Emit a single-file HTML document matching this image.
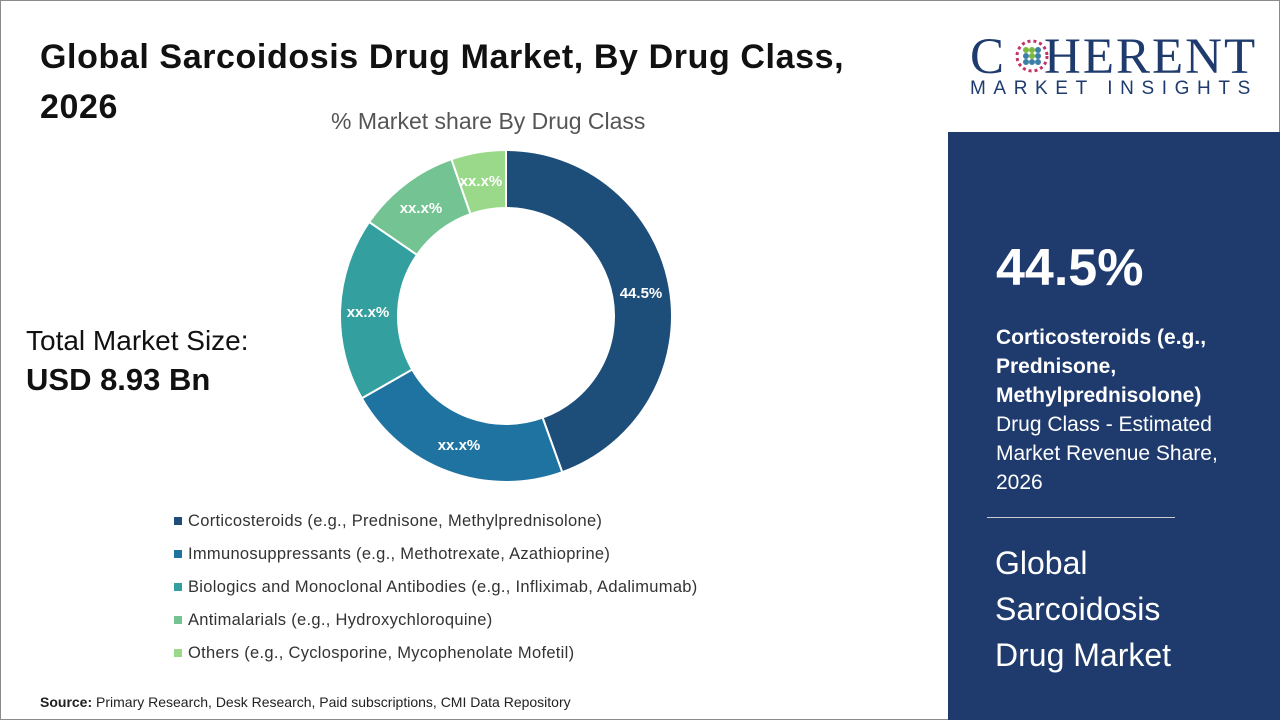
<!DOCTYPE html>
<html><head><meta charset="utf-8"><style>
body{margin:0;width:1280px;height:720px;overflow:hidden;background:#fff;font-family:"Liberation Sans",sans-serif;position:relative}
.frame{position:absolute;left:0;top:0;width:1278px;height:718px;border:1px solid #8a8a8a}
.t{position:absolute;color:#111}
.leg{position:absolute;left:174px;font-size:16.5px;color:#333;letter-spacing:0.3px}
.leg span{display:inline-block;width:8px;height:8px;margin-right:6px;vertical-align:1px}
.panel{position:absolute;left:948px;top:132px;width:332px;height:588px;background:#1f3b6e}
.p{position:absolute;color:#fff}
</style></head><body>
<div class="frame"></div>
<div class="t" style="left:40px;top:32px;font-size:34px;font-weight:bold;line-height:50px;width:900px;letter-spacing:0.6px">Global Sarcoidosis Drug Market, By Drug Class,<br>2026</div>
<div class="t" style="left:331px;top:108px;font-size:23px;color:#555">% Market share By Drug Class</div>
<div class="t" style="left:26px;top:325px;font-size:28px;color:#111">Total Market Size:</div>
<div class="t" style="left:26px;top:362px;font-size:31px;font-weight:bold">USD 8.93 Bn</div>
<svg id="d" style="position:absolute;left:0;top:0" width="948" height="720"></svg>
<div class="leg" style="top:512px"><span style="background:#1d4e79"></span>Corticosteroids (e.g., Prednisone, Methylprednisolone)</div>
<div class="leg" style="top:545px"><span style="background:#1f73a0"></span>Immunosuppressants (e.g., Methotrexate, Azathioprine)</div>
<div class="leg" style="top:578px"><span style="background:#33a09f"></span>Biologics and Monoclonal Antibodies (e.g., Infliximab, Adalimumab)</div>
<div class="leg" style="top:611px"><span style="background:#74c493"></span>Antimalarials (e.g., Hydroxychloroquine)</div>
<div class="leg" style="top:644px"><span style="background:#9ad98a"></span>Others (e.g., Cyclosporine, Mycophenolate Mofetil)</div>
<div class="t" style="left:40px;top:694px;font-size:14px;color:#222"><b>Source:</b> Primary Research, Desk Research, Paid subscriptions, CMI Data Repository</div>
<div class="t" style="left:970px;top:28px;font-family:'Liberation Serif',serif;font-size:51px;color:#1f3b6e;letter-spacing:2px">C<span style="display:inline-block;width:38px"></span>HERENT</div>
<svg style="position:absolute;left:1014px;top:38px" width="36" height="36"><g fill="#3b7fa8"><circle cx="18" cy="18" r="15" fill="none" stroke="#c0336a" stroke-width="3" stroke-dasharray="3 3"/><circle cx="12" cy="12" r="3" fill="#7ab93d"/><circle cx="18" cy="12" r="3" fill="#7ab93d"/><circle cx="24" cy="12" r="3"/><circle cx="12" cy="18" r="3"/><circle cx="18" cy="18" r="3" fill="#7ab93d"/><circle cx="24" cy="18" r="3"/><circle cx="12" cy="24" r="3"/><circle cx="18" cy="24" r="3"/><circle cx="24" cy="24" r="3"/></g></svg>
<div class="t" style="left:970px;top:78px;font-size:19px;color:#1f3b6e;letter-spacing:7.6px">MARKET INSIGHTS</div>
<div class="panel"></div>
<div class="p" style="left:996px;top:238px;font-size:52px;font-weight:bold">44.5%</div>
<div class="p" style="left:996px;top:323px;font-size:21px;line-height:29px;width:250px"><b>Corticosteroids (e.g., Prednisone, Methylprednisolone)</b><br>Drug Class - Estimated Market Revenue Share, 2026</div>
<div class="p" style="left:987px;top:517px;width:188px;border-top:1px solid #ccc"></div>
<div class="p" style="left:995px;top:540px;font-size:32px;line-height:46px">Global<br>Sarcoidosis<br>Drug Market</div>
<script>
var s=document.getElementById('d'),cx=506,cy=316,R=166,r=108;
var seg=[[0,160.2,'#1d4e79'],[160.2,240.3,'#1f73a0'],[240.3,304.5,'#33a09f'],[304.5,340.8,'#74c493'],[340.8,360,'#9ad98a']];
var labs=[[641,294,'44.5%'],[459,446,'xx.x%'],[368,313,'xx.x%'],[421,209,'xx.x%'],[481,182,'xx.x%']];
function P(a,rr){a=a*Math.PI/180;return[cx+rr*Math.sin(a),cy-rr*Math.cos(a)]}
var h='';seg.forEach(function(g){var a=P(g[0],R),b=P(g[1],R),c=P(g[1],r),d=P(g[0],r),l=(g[1]-g[0])>180?1:0;
h+='<path d="M'+a+'A'+R+','+R+' 0 '+l+' 1 '+b+'L'+c+'A'+r+','+r+' 0 '+l+' 0 '+d+'Z" fill="'+g[2]+'" stroke="#fff" stroke-width="2"/>';});
labs.forEach(function(l){h+='<text x="'+l[0]+'" y="'+l[1]+'" fill="#fff" font-size="15" font-weight="bold" text-anchor="middle" dominant-baseline="middle" font-family="Liberation Sans">'+l[2]+'</text>'});
s.innerHTML=h;
</script>
</body></html>
